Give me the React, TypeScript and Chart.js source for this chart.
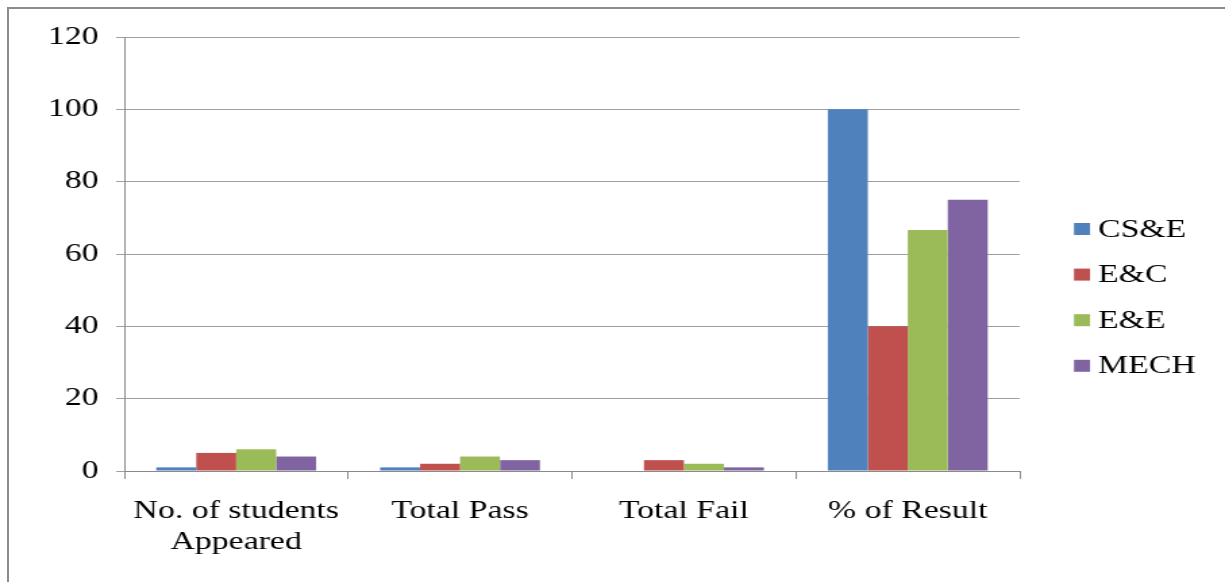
import React, { useEffect, useRef } from "react";
import { Chart, registerables } from "chart.js";

Chart.register(...registerables);

const categories: (string | string[])[] = [
  ["No. of students", "Appeared"],
  "Total Pass",
  "Total Fail",
  "% of Result",
];
const seriesNames = ["CS&E", "E&C", "E&E", "MECH"];
const csE = [1, 1, 0, 100];
const eC = [5, 2, 3, 40];
const eE = [6, 4, 2, 66.67];
const mech = [4, 3, 1, 75];
const seriesColors = ["#4F81BD", "#C0504D", "#9BBB59", "#8064A2"];
const yTicks = [0, 20, 40, 60, 80, 100, 120];

const FONT = "'Liberation Serif', 'Times New Roman', serif";
const PAGE_W = 1225;
const PAGE_H = 582;
const INNER_W = 907; // drawing width, stretched horizontally to PAGE_W

const legendPlugin = {
  id: "sideLegend",
  afterDraw(chart: any) {
    const ctx = chart.ctx;
    const s = PAGE_W / INNER_W;
    const boxX = 1074 / s;
    const boxW = 16 / s;
    const boxH = 12;
    const textX = 1098 / s;
    const startY = 229;
    const step = 45.6;
    ctx.save();
    ctx.font = `25px ${FONT}`;
    ctx.textBaseline = "middle";
    ctx.textAlign = "left";
    chart.data.datasets.forEach((ds: any, i: number) => {
      const cy = startY + i * step;
      ctx.fillStyle = ds.backgroundColor;
      ctx.fillRect(boxX, cy - boxH / 2, boxW, boxH);
      ctx.fillStyle = "#000";
      ctx.fillText(ds.label, textX, cy + 1);
    });
    ctx.restore();
  },
};

export default function App() {
  const ref = useRef<HTMLCanvasElement | null>(null);

  useEffect(() => {
    if (!ref.current) return;
    const values = [csE, eC, eE, mech];
    const chart = new Chart(ref.current, {
      type: "bar",
      data: {
        labels: categories,
        datasets: seriesNames.map((name, i) => ({
          label: name,
          data: values[i],
          backgroundColor: seriesColors[i],
          borderWidth: 0,
          categoryPercentage: 0.714,
          barPercentage: 1,
        })),
      },
      plugins: [legendPlugin],
      options: {
        responsive: false,
        animation: false,
        devicePixelRatio: 1,
        layout: { padding: { left: 0, right: 152, top: 37, bottom: 0 } },
        plugins: {
          legend: { display: false },
          tooltip: { enabled: false },
          title: { display: false },
        },
        scales: {
          x: {
            offset: true,
            grid: {
              offset: true,
              drawOnChartArea: false,
              drawTicks: true,
              tickLength: 8,
              color: "#8a8a8a",
            },
            border: { display: true, color: "#8a8a8a", width: 1 },
            ticks: {
              color: "#000",
              padding: 17,
              maxRotation: 0,
              autoSkip: false,
              font: { family: FONT, size: 25, lineHeight: 1.24 },
            },
            afterFit(scale: any) {
              scale.height = 111;
            },
          },
          y: {
            min: yTicks[0],
            max: yTicks[yTicks.length - 1],
            afterBuildTicks(scale: any) {
              scale.ticks = yTicks.map((v) => ({ value: v }));
            },
            grid: {
              color: "#a0a0a0",
              tickLength: 6,
              drawTicks: true,
            },
            border: { display: true, color: "#8a8a8a", width: 1 },
            ticks: {
              color: "#000",
              padding: 13,
              font: { family: FONT, size: 25 },
            },
            afterFit(scale: any) {
              scale.width = 92;
            },
          },
        },
      },
    });
    return () => chart.destroy();
  }, []);

  return (
    <div
      style={{
        position: "fixed",
        left: 0,
        top: 0,
        width: PAGE_W,
        height: PAGE_H,
        overflow: "hidden",
        background: "#fff",
      }}
    >
      <canvas
        ref={ref}
        width={INNER_W}
        height={PAGE_H}
        style={{
          position: "absolute",
          left: 0,
          top: 0,
          width: `${PAGE_W}px`,
          height: `${PAGE_H}px`,
        }}
      />
      <div
        style={{
          position: "absolute",
          left: 7,
          top: 7,
          width: 1400,
          height: 800,
          borderLeft: "2px solid #8c8c8c",
          borderTop: "2px solid #8c8c8c",
          pointerEvents: "none",
        }}
      />
    </div>
  );
}
